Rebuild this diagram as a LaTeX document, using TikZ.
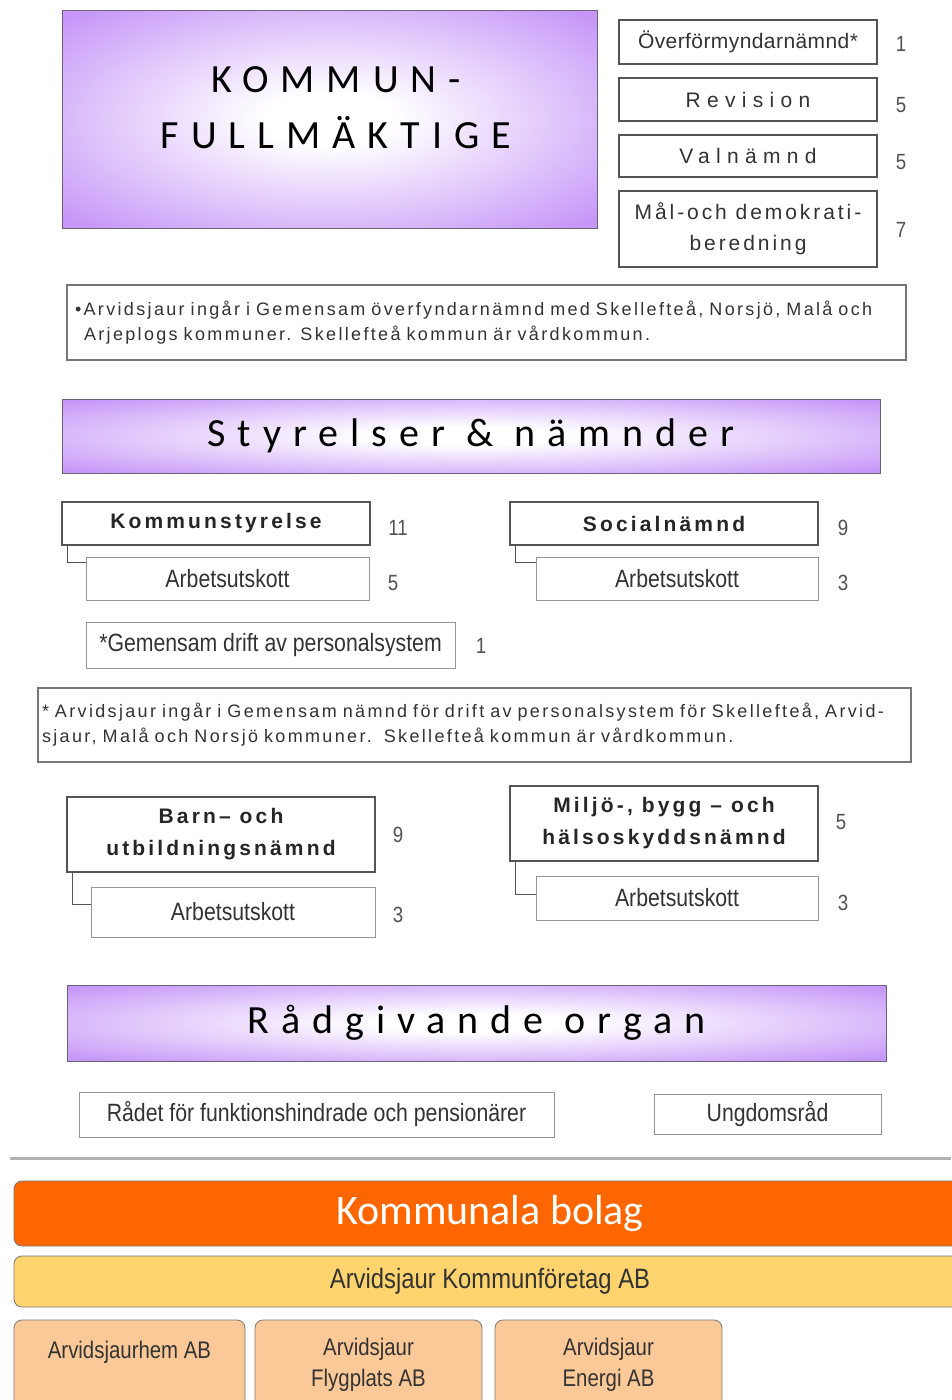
\documentclass[tikz,border=0pt]{standalone}
\usepackage{fontspec}
\setmainfont{Liberation Sans}
\newfontfamily\headfont{Carlito}[LetterSpace=30]
\newfontfamily\bolagfont{Carlito}
\newfontfamily\narrowfont{Liberation Sans}[FakeStretch=0.85]
\newfontfamily\notefont{Liberation Sans}[LetterSpace=13]
\newcommand{\lsp}[2]{{\addfontfeatures{LetterSpace=#1}#2}}

\definecolor{lila}{RGB}{198,150,248}
\definecolor{boxgray}{RGB}{85,85,85}
\definecolor{thingray}{RGB}{150,150,150}
\definecolor{textgray}{RGB}{51,51,51}
\definecolor{bolagorange}{RGB}{255,102,0}
\definecolor{foretagyellow}{RGB}{255,211,110}
\definecolor{dotterpeach}{RGB}{251,201,152}

\pgfdeclareradialshading{lilashade}{\pgfpoint{0bp}{0bp}}{color(0bp)=(white); color(6bp)=(white); color(34bp)=(lila); color(50bp)=(lila)}

\begin{document}
\begin{tikzpicture}[x=1pt,y=-1pt,
    every node/.style={inner sep=0pt,text=textgray},
    head/.style={draw=boxgray!80!lila,line width=1pt,shade,shading=lilashade,text=black},
    box/.style={draw=boxgray,line width=1.3pt,fill=white},
    aubox/.style={draw=thingray,line width=0.8pt,fill=white,font=\narrowfont\fontsize{25}{25}\selectfont},
    notebox/.style={draw=boxgray!80,line width=1.5pt,fill=white,align=left,font=\notefont\fontsize{18}{25}\selectfont},
    bold/.style={font=\bfseries\fontsize{21}{32}\selectfont\addfontfeatures{LetterSpace=15},align=center,text=black!85},
    num/.style={font=\narrowfont\fontsize{22}{22}\selectfont,text=textgray!85},
    conn/.style={draw=boxgray,line width=1.2pt},
    bolag/.style={draw=boxgray!80,line width=0.8pt,rounded corners=8pt}]

  \useasboundingbox (0,0) rectangle (951,1400);

  % fullmäktige
  \node (1) at (329.5,119) [head,minimum width=535pt,minimum height=218pt] {};
  \node (1t) at (336,108) [font=\headfont\fontsize{40}{56}\selectfont,align=center,text=black] {KOMMUN-\\FULLMÄKTIGE};

  \begin{scope}[every node/.append style={font=\fontsize{21}{31}\selectfont}]
    \node (2) at (748,42)    [box,minimum width=258pt,minimum height=44pt] {\lsp{2}{Överförmyndarnämnd*}};
    \node (3) at (748,99.5)  [box,minimum width=258pt,minimum height=43pt] {\lsp{30}{Revision}};
    \node (4) at (748,156)   [box,minimum width=258pt,minimum height=42pt] {\lsp{30}{Valnämnd}};
    \node (5) at (748,229)   [box,minimum width=258pt,minimum height=76pt,align=center] {\lsp{14}{Mål-och demokrati-}\\\lsp{14}{beredning}};
  \end{scope}
  \node (2n) at (901,44)  [num] {1};
  \node (3n) at (901,105) [num] {5};
  \node (4n) at (901,162) [num] {5};
  \node (5n) at (901,230) [num] {7};

  \node (6) at (486.5,322.5) [notebox,minimum width=839pt,minimum height=75pt,text width=823pt]
    {\textbullet Arvidsjaur ingår i Gemensam överfyndarnämnd med Skellefteå, Norsjö, Malå och\\
     \hspace*{9pt}Arjeplogs kommuner. Skellefteå kommun är vårdkommun.};

  % styrelser och nämnder
  \node (7) at (471,436) [head,minimum width=818pt,minimum height=74pt,font=\headfont\fontsize{40}{40}\selectfont] {Styrelser \& nämnder};

  \node (8)  at (216,523.5)   [box,bold,minimum width=308pt,minimum height=43pt] {Kommunstyrelse};
  \node (9)  at (227.5,578.5) [aubox,minimum width=283pt,minimum height=43pt] {Arbetsutskott};
  \node (10) at (270.5,645)   [aubox,minimum width=369pt,minimum height=46pt] {*Gemensam drift av personalsystem};
  \node (11) at (664,523.5)   [box,bold,minimum width=308pt,minimum height=43pt] {Socialnämnd};
  \node (12) at (677,578.5)   [aubox,minimum width=282pt,minimum height=43pt] {Arbetsutskott};
  \node (8n)  at (398,528) [num] {11};
  \node (9n)  at (393,583) [num] {5};
  \node (10n) at (481,646) [num] {1};
  \node (11n) at (843,528) [num] {9};
  \node (12n) at (843,583) [num] {3};

  \node (13) at (474.5,725) [notebox,minimum width=873pt,minimum height=74pt,text width=865pt]
    {* Arvidsjaur ingår i Gemensam nämnd för drift av personalsystem för Skellefteå, Arvid-\\
     sjaur, Malå och Norsjö kommuner.\ \ Skellefteå kommun är vårdkommun.};

  \node (14) at (221,834.5) [box,bold,minimum width=308pt,minimum height=75pt] {Barn– och\\utbildningsnämnd};
  \node (15) at (233,912)   [aubox,minimum width=284pt,minimum height=50pt] {Arbetsutskott};
  \node (16) at (664,823.5) [box,bold,minimum width=308pt,minimum height=75pt] {Miljö-, bygg – och\\hälsoskyddsnämnd};
  \node (17) at (677,898)   [aubox,minimum width=282pt,minimum height=44pt] {Arbetsutskott};
  \node (14n) at (398,835) [num] {9};
  \node (15n) at (398,915) [num] {3};
  \node (16n) at (841,822) [num] {5};
  \node (17n) at (843,903) [num] {3};

  \draw[conn] ([xshift=6pt]8.south west)  |- ([yshift=-6pt]9.north west);
  \draw[conn] ([xshift=6pt]11.south west) |- ([yshift=-6pt]12.north west);
  \draw[conn] ([xshift=6pt]14.south west) |- ([yshift=-18pt]15.north west);
  \draw[conn] ([xshift=6pt]16.south west) |- ([yshift=-19pt]17.north west);

  % rådgivande organ
  \node (18) at (476.5,1023) [head,minimum width=819pt,minimum height=76pt,font=\headfont\fontsize{40}{40}\selectfont] {Rådgivande organ};
  \node (19) at (316.5,1114.5) [aubox,minimum width=475pt,minimum height=45pt] {Rådet för funktionshindrade och pensionärer};
  \node (20) at (767.5,1114)   [aubox,minimum width=227pt,minimum height=40pt] {Ungdomsråd};

  \coordinate (lineL) at (10,1158);
  \coordinate (lineR) at (951,1158);
  \draw[gray!60,line width=3pt] (lineL) -- (lineR);

  % bolag
  \node (21) at (490,1213.5) [bolag,fill=bolagorange,minimum width=952pt,minimum height=65pt,text=white,font=\bolagfont\fontsize{42}{42}\selectfont] {Kommunala bolag};
  \node (22) at (490,1281.5) [bolag,fill=foretagyellow,minimum width=952pt,minimum height=51pt,font=\narrowfont\fontsize{28}{28}\selectfont] {Arvidsjaur Kommunföretag AB};
  \begin{scope}[every node/.append style={bolag,fill=dotterpeach,minimum height=90pt,align=center,font=\narrowfont\fontsize{24}{31}\selectfont}]
    \node (23) at (129.5,1365) [minimum width=231pt] {Arvidsjaurhem AB\\\mbox{}};
    \node (24) at (368.5,1365) [minimum width=227pt] {Arvidsjaur\\Flygplats AB};
    \node (25) at (608.5,1365) [minimum width=227pt] {Arvidsjaur\\Energi AB};
  \end{scope}

\end{tikzpicture}
\end{document}
